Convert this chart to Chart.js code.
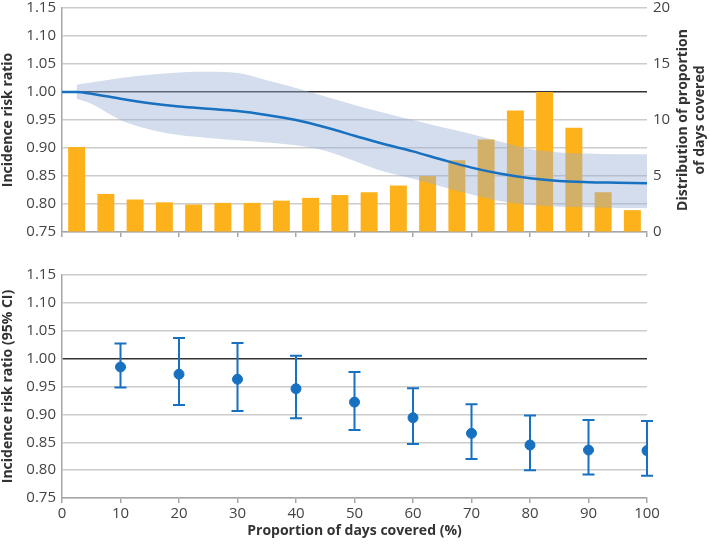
<!DOCTYPE html>
<html>
<head>
<meta charset="utf-8">
<script src="https://cdn.jsdelivr.net/npm/chart.js@4.4.1/dist/chart.umd.min.js"></script>
<style>
  body { margin: 0; background: #fff; }
  #wrap { position: relative; width: 710px; height: 545px; }
  canvas { position: absolute; left: 0; }
  #top { top: 0; }
  #bottom { top: 250px; }
</style>
</head>
<body>
<div id="wrap">
  <canvas id="top" width="710" height="250"></canvas>
  <canvas id="bottom" width="710" height="295"></canvas>
</div>
<script>
// distribution of proportion of days covered (bars, right axis)
const barX = [2.5, 7.5, 12.5, 17.5, 22.5, 27.5, 32.5, 37.5, 42.5, 47.5, 52.5, 57.5, 62.5, 67.5, 72.5, 77.5, 82.5, 87.5, 92.5, 97.5];
const barPct = [7.6, 3.4, 2.9, 2.65, 2.45, 2.6, 2.6, 2.8, 3.05, 3.3, 3.55, 4.15, 5.0, 6.4, 8.25, 10.85, 12.5, 9.3, 3.55, 1.95];

// spline of incidence risk ratio with confidence band (left axis)
const curveX = [0, 2.5, 5, 10, 15, 20, 25, 30, 35, 40, 45, 50, 55, 60, 65, 70, 75, 80, 85, 90, 95, 100];
const curveIRR = [1.000, 1.000, 0.997, 0.988, 0.980, 0.974, 0.970, 0.966, 0.959, 0.950, 0.937, 0.922, 0.907, 0.894, 0.879, 0.865, 0.854, 0.846, 0.841, 0.839, 0.838, 0.837];
const bandX = [2.5, 5, 10, 15, 20, 25, 30, 35, 40, 45, 50, 55, 60, 65, 70, 75, 80, 85, 90, 95, 100];
const bandUpper = [1.013, 1.017, 1.025, 1.031, 1.035, 1.036, 1.034, 1.021, 1.007, 0.992, 0.977, 0.963, 0.950, 0.937, 0.925, 0.911, 0.898, 0.892, 0.890, 0.889, 0.889];
const bandLower = [0.988, 0.979, 0.950, 0.933, 0.923, 0.918, 0.914, 0.910, 0.905, 0.895, 0.877, 0.858, 0.845, 0.831, 0.817, 0.805, 0.798, 0.795, 0.794, 0.793, 0.793];

// categorised estimates (bottom panel)
const pointX = [10, 20, 30, 40, 50, 60, 70, 80, 90, 100];
const pointIRR = [0.985, 0.972, 0.963, 0.946, 0.922, 0.894, 0.866, 0.845, 0.836, 0.835];
const ciLow = [0.948, 0.917, 0.906, 0.893, 0.872, 0.847, 0.820, 0.800, 0.792, 0.790];
const ciHigh = [1.027, 1.037, 1.028, 1.005, 0.976, 0.947, 0.918, 0.898, 0.890, 0.888];

const leftTitleTop = 'Incidence risk ratio';
const leftTitleBottom = 'Incidence risk ratio (95% CI)';
const rightTitle = ['Distribution of proportion', 'of days covered'];
const xTitle = 'Proportion of days covered (%)';

const FONT = '"Open Sans", "Noto Sans", sans-serif';
const BLUE = '#1770c0';
const ORANGE = '#fdb11b';
const GRID = '#cccccc';
const AXIS = '#a6a6a6';

Chart.defaults.font.family = FONT;
Chart.defaults.animation = false;

const toXY = (xs, ys) => xs.map((x, i) => ({ x: x, y: ys[i] }));

const gridColor = (ctx) => (ctx.tick && Math.abs(ctx.tick.value - 1) < 1e-9) ? '#333333' : GRID;

const rightTitlePlugin = {
    id: 'rightTitle',
    afterDraw(chart) {
        const c = chart.ctx;
        const area = chart.chartArea;
        const midY = (area.top + area.bottom) / 2;
        c.save();
        c.fillStyle = '#333';
        c.font = 'bold 14px ' + FONT;
        c.textAlign = 'center';
        c.textBaseline = 'middle';
        [683, 700].forEach((x, i) => {
            c.save();
            c.translate(x, midY);
            c.rotate(-Math.PI / 2);
            c.fillText(rightTitle[i], 0, 0);
            c.restore();
        });
        c.restore();
    }
};

const errorBarPlugin = {
    id: 'errorBars',
    beforeDatasetsDraw(chart) {
        const c = chart.ctx;
        const xs = chart.scales.x;
        const ys = chart.scales.y;
        c.save();
        c.strokeStyle = BLUE;
        c.lineWidth = 2;
        pointX.forEach((x, i) => {
            const px = xs.getPixelForValue(x);
            const top = ys.getPixelForValue(ciHigh[i]);
            const bot = ys.getPixelForValue(ciLow[i]);
            c.beginPath();
            c.moveTo(px, top); c.lineTo(px, bot);
            c.moveTo(px - 6, top); c.lineTo(px + 6, top);
            c.moveTo(px - 6, bot); c.lineTo(px + 6, bot);
            c.stroke();
        });
        c.restore();
    }
};

const irrAxis = (title) => ({
    position: 'left',
    min: 0.75,
    max: 1.15,
    ticks: {
        stepSize: 0.05,
        color: '#444',
        font: { size: 15 },
        padding: 6,
        callback: (v) => v.toFixed(2)
    },
    grid: { color: gridColor, lineWidth: 1.5, drawTicks: false },
    border: { color: AXIS, width: 1.5 },
    title: { display: true, text: title, color: '#333', font: { size: 14, weight: 'bold' }, padding: { top: 0, bottom: 2 } },
    afterFit: (s) => { s.width = 62; s.paddingTop = 0; s.paddingBottom = 0; }
});

new Chart(document.getElementById('top'), {
    type: 'bar',
    data: {
        datasets: [
            {
                type: 'line',
                data: toXY(curveX, curveIRR),
                yAxisID: 'y',
                borderColor: BLUE,
                borderWidth: 2.5,
                pointRadius: 0,
                cubicInterpolationMode: 'monotone',
                order: 0
            },
            {
                type: 'line',
                data: toXY(bandX, bandUpper),
                yAxisID: 'y',
                borderWidth: 0,
                pointRadius: 0,
                cubicInterpolationMode: 'monotone',
                backgroundColor: 'rgba(150, 175, 212, 0.42)',
                fill: '+1',
                order: 1
            },
            {
                type: 'line',
                data: toXY(bandX, bandLower),
                yAxisID: 'y',
                borderWidth: 0,
                pointRadius: 0,
                cubicInterpolationMode: 'monotone',
                fill: false,
                order: 1
            },
            {
                type: 'bar',
                data: toXY(barX, barPct),
                yAxisID: 'y2',
                backgroundColor: ORANGE,
                barPercentage: 0.58,
                categoryPercentage: 1,
                order: 2
            }
        ]
    },
    options: {
        responsive: false,
        layout: { padding: { top: 8, left: 0, right: 0, bottom: 0 } },
        plugins: { legend: { display: false }, tooltip: { enabled: false } },
        scales: {
            x: {
                type: 'linear',
                min: 0,
                max: 100,
                offset: false,
                ticks: { stepSize: 10, display: false },
                grid: { drawOnChartArea: false, drawTicks: true, tickLength: 5, color: AXIS, lineWidth: 1.5, offset: false },
                border: { color: AXIS, width: 1.5 },
                afterFit: (s) => { s.height = 18; }
            },
            y: irrAxis(leftTitleTop),
            y2: {
                position: 'right',
                min: 0,
                max: 20,
                ticks: { stepSize: 5, color: '#444', font: { size: 15 }, padding: 6 },
                grid: { drawOnChartArea: false, drawTicks: false },
                border: { display: false },
                afterFit: (s) => { s.width = 63; s.paddingTop = 0; s.paddingBottom = 0; }
            }
        }
    },
    plugins: [rightTitlePlugin]
});

new Chart(document.getElementById('bottom'), {
    type: 'scatter',
    data: {
        datasets: [{
            data: toXY(pointX, pointIRR),
            backgroundColor: BLUE,
            borderColor: BLUE,
            pointRadius: 5,
            pointHoverRadius: 5
        }]
    },
    options: {
        responsive: false,
        layout: { padding: { top: 25, left: 0, right: 63, bottom: 0 } },
        plugins: { legend: { display: false }, tooltip: { enabled: false } },
        scales: {
            x: {
                type: 'linear',
                min: 0,
                max: 100,
                ticks: { stepSize: 10, color: '#444', font: { size: 15 }, padding: 2, maxRotation: 0 },
                grid: { drawOnChartArea: false, drawTicks: true, tickLength: 5, color: AXIS, lineWidth: 1.5 },
                border: { color: AXIS, width: 1.5 },
                title: { display: true, text: xTitle, color: '#333', font: { size: 14, weight: 'bold' }, padding: { top: 2, bottom: 6 } },
                afterFit: (s) => { s.height = 47; }
            },
            y: irrAxis(leftTitleBottom)
        }
    },
    plugins: [errorBarPlugin]
});
</script>
</body>
</html>
